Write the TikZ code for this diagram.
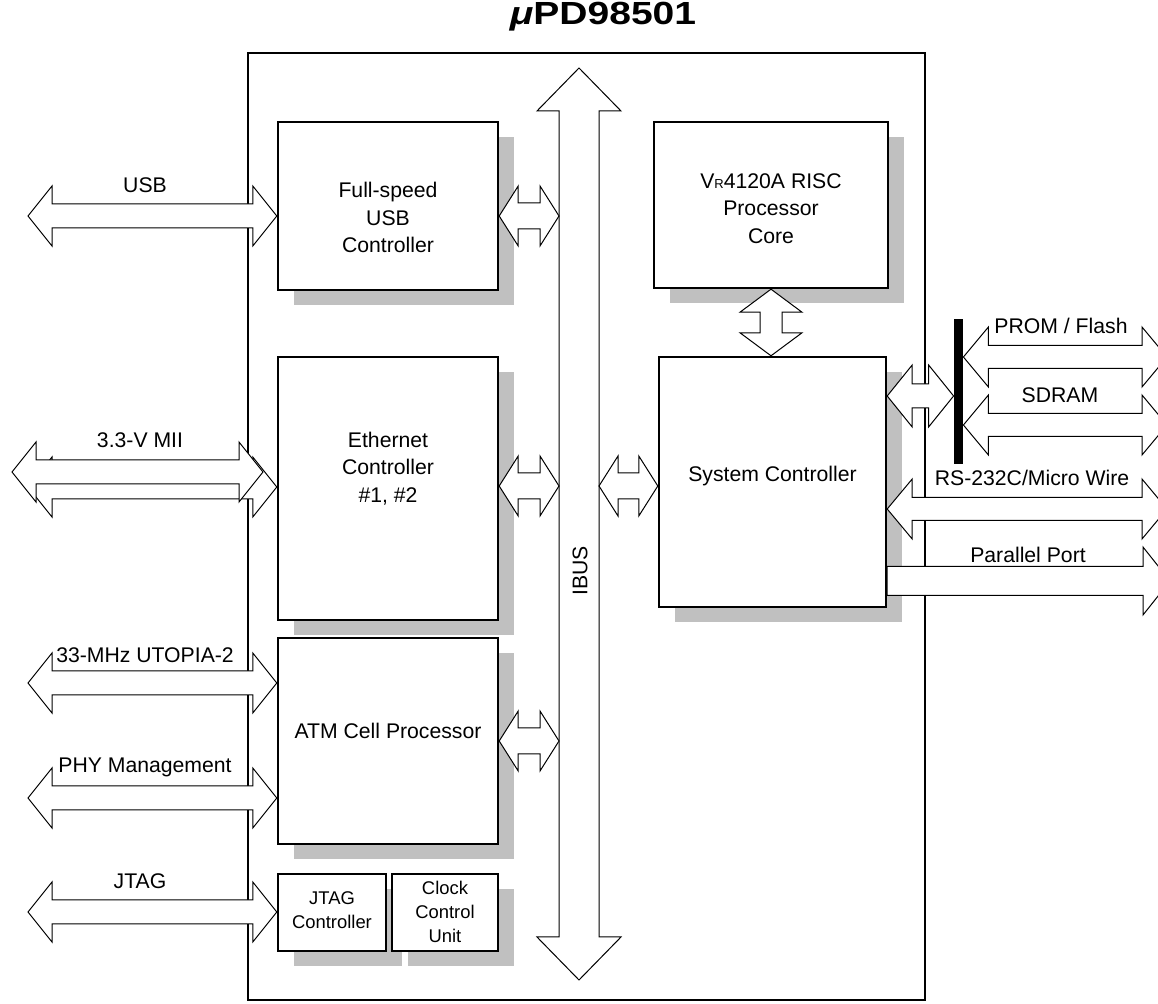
\documentclass[tikz,border=0pt]{standalone}
\usepackage{fontspec}
\setmainfont{Liberation Sans}
\usepackage{tikz}
\usetikzlibrary{calc,shadows}
\definecolor{shade}{HTML}{C0C0C0}
% wide double-headed bus arrow: from, to, head length, head half width, shaft half width
\newcommand{\busarrow}[5]{%
  \path[busline] (#1)
    -- ($(#1)!#3!(#2)!#4!90:(#2)$) -- ($(#1)!#3!(#2)!#5!90:(#2)$)
    -- ($(#2)!#3!(#1)!#5!-90:(#1)$) -- ($(#2)!#3!(#1)!#4!-90:(#1)$)
    -- (#2)
    -- ($(#2)!#3!(#1)!#4!90:(#1)$) -- ($(#2)!#3!(#1)!#5!90:(#1)$)
    -- ($(#1)!#3!(#2)!#5!-90:(#2)$) -- ($(#1)!#3!(#2)!#4!-90:(#2)$)
    -- cycle;}
% one-headed version: tail, tip, head length, head half width, shaft half width
\newcommand{\onearrow}[5]{%
  \path[busline] ($(#1)!#5!90:(#2)$)
    -- ($(#2)!#3!(#1)!#5!-90:(#1)$) -- ($(#2)!#3!(#1)!#4!-90:(#1)$)
    -- (#2)
    -- ($(#2)!#3!(#1)!#4!90:(#1)$) -- ($(#2)!#3!(#1)!#5!90:(#1)$)
    -- ($(#1)!#5!-90:(#2)$) -- cycle;}
\newcommand{\extarrow}[2]{\busarrow{#1}{#2}{12pt}{15pt}{6pt}}
\newcommand{\taparrow}[2]{\busarrow{#1}{#2}{9.5pt}{15pt}{6.5pt}}

\begin{document}
\begin{tikzpicture}[x=0.5pt, y=-0.5pt,
    block/.style={draw, line width=1.2pt, fill=white, minimum width=110pt, inner sep=0pt,
                  drop shadow={shadow xshift=8pt, shadow yshift=-7.5pt, fill=shade, opacity=1}},
    blocktext/.style={align=center, font=\fontsize{10.6}{13.8}\selectfont},
    smalltext/.style={align=center, font=\fontsize{9.2}{12}\selectfont},
    sig/.style={font=\fontsize{10.6}{12}\selectfont, inner sep=0pt},
    busline/.style={draw, fill=white, line width=0.5pt, line join=miter}]
  \useasboundingbox (0,0) rectangle (1158,1004);
  \clip (0,0) rectangle (1158,1004);

  % chip outline and name
  \node[draw, line width=1.3pt, minimum width=338.5pt, minimum height=473.5pt] (chip) at (586.5,526.5) {};
  \node[font=\fontsize{16}{19}\selectfont\bfseries] (title) at (603,17) {\scalebox{1.22}[1]{{\itshape μ}PD98501}};

  % function blocks
  \node[block, minimum height=84pt,
        label={[name=usbt, blocktext, yshift=-5.75pt]center:{Full-speed\\USB\\Controller}}] (usbc) at (388,206) {};
  \node[block, minimum width=117pt, minimum height=83pt,
        label={[name=cput, blocktext, yshift=-1.75pt]center:{V{\fontsize{6.5}{8}\selectfont R}4120A RISC\\Processor\\Core}}] (cpu) at (771,205) {};
  \node[block, minimum height=131.5pt,
        label={[name=etht, blocktext, yshift=10pt]center:{Ethernet\\Controller\\\#1, \#2}}] (ethc) at (388,488.5) {};
  \node[block, minimum width=113.5pt, minimum height=125pt,
        label={[name=syst, blocktext, yshift=3pt]center:{System Controller}}] (sysc) at (772.5,482) {};
  \node[block, minimum height=103pt,
        label={[name=atmt, blocktext, yshift=5pt]center:{ATM Cell Processor}}] (atmc) at (388,741) {};
  \node[block, minimum width=54pt, minimum height=38.5pt,
        label={[name=jtgt, smalltext, yshift=1pt]center:{JTAG\\Controller}}] (jtagc) at (332,912.5) {};
  \node[block, minimum width=53pt, minimum height=38.5pt,
        label={[name=clkt, smalltext, yshift=0.5pt]center:{Clock\\Control\\Unit}}] (clku) at (445,912.5) {};

  % internal bus
  \coordinate (bustop) at (579,68);
  \coordinate (busbot) at (579,980);
  \coordinate (busL) at (559,0);
  \coordinate (busR) at (599,0);
  \busarrow{bustop}{busbot}{21.5pt}{21pt}{10pt}
  \node[sig, rotate=90] (ibusl) at (580,571) {IBUS};

  % taps onto the bus
  \coordinate (usbrow) at (0,216);
  \coordinate (ethrow) at (0,486);
  \coordinate (usbo) at (usbc.east |- usbrow);
  \coordinate (usbb) at (busL |- usbrow);
  \coordinate (etho) at (ethc.east |- ethrow);
  \coordinate (ethb) at (busL |- ethrow);
  \coordinate (sysb) at (busR |- ethrow);
  \coordinate (syso) at (sysc.west |- ethrow);
  \coordinate (atmb) at (busL |- atmc.east);
  \taparrow{usbo}{usbb}
  \taparrow{etho}{ethb}
  \taparrow{sysb}{syso}
  \taparrow{atmc.east}{atmb}
  \coordinate (cpuo) at (sysc.north -| cpu.south);
  \busarrow{cpu.south}{cpuo}{11.5pt}{15.5pt}{5.5pt}

  % external interfaces, left
  \coordinate (usbx) at (28,216);
  \coordinate (miia) at (12,472);
  \coordinate (miiai) at (263,472);
  \coordinate (miib) at (28,487);
  \coordinate (utox) at (28,683);
  \coordinate (phyx) at (28,798);
  \coordinate (jtgx) at (28,912);
  \coordinate (usbi) at (usbx -| usbc.west);
  \coordinate (miibi) at (miib -| ethc.west);
  \coordinate (utoi) at (utox -| atmc.west);
  \coordinate (phyi) at (phyx -| atmc.west);
  \coordinate (jtgi) at (jtgx -| jtagc.west);
  \extarrow{usbx}{usbi}
  \extarrow{miib}{miibi}
  \extarrow{miia}{miiai}
  \extarrow{utox}{utoi}
  \extarrow{phyx}{phyi}
  \extarrow{jtgx}{jtgi}
  \node[sig] (usbl) at (145,185) {USB};
  \node[sig] (miil) at (140,440) {3.3-V MII};
  \node[sig] (utol) at (145,655) {33-MHz UTOPIA-2};
  \node[sig] (phyl) at (145,767) {PHY Management};
  \node[sig] (jtgl) at (140,881) {JTAG};

  % external interfaces, right
  \node[fill=black, minimum width=4.5pt, minimum height=72.5pt, inner sep=0pt] (bar) at (958.5,391.5) {};
  \coordinate (memrow) at (0,396);
  \coordinate (memo) at (sysc.east |- memrow);
  \coordinate (memb) at (bar.west |- memrow);
  \busarrow{memo}{memb}{12.5pt}{15.5pt}{6pt}
  \coordinate (promx) at (1167,357);
  \coordinate (sdrx) at (1167,425);
  \coordinate (rsx) at (1167,509);
  \coordinate (ppx) at (1170,581);
  \coordinate (promb) at (promx -| bar.east);
  \coordinate (sdrb) at (sdrx -| bar.east);
  \coordinate (rso) at (rsx -| sysc.east);
  \coordinate (ppo) at (ppx -| sysc.east);
  \busarrow{promb}{promx}{12.5pt}{15pt}{5.75pt}
  \busarrow{sdrb}{sdrx}{12.5pt}{15pt}{5.75pt}
  \busarrow{rso}{rsx}{12.5pt}{15pt}{5.75pt}
  \onearrow{ppo}{ppx}{13.5pt}{17pt}{7.25pt}
  \node[sig] (proml) at (1061,326) {PROM / Flash};
  \node[sig] (sdrl) at (1060,395) {SDRAM};
  \node[sig] (rsl) at (1032,478) {RS-232C/Micro Wire};
  \node[sig] (ppl) at (1028,555) {Parallel Port};
\end{tikzpicture}
\end{document}
